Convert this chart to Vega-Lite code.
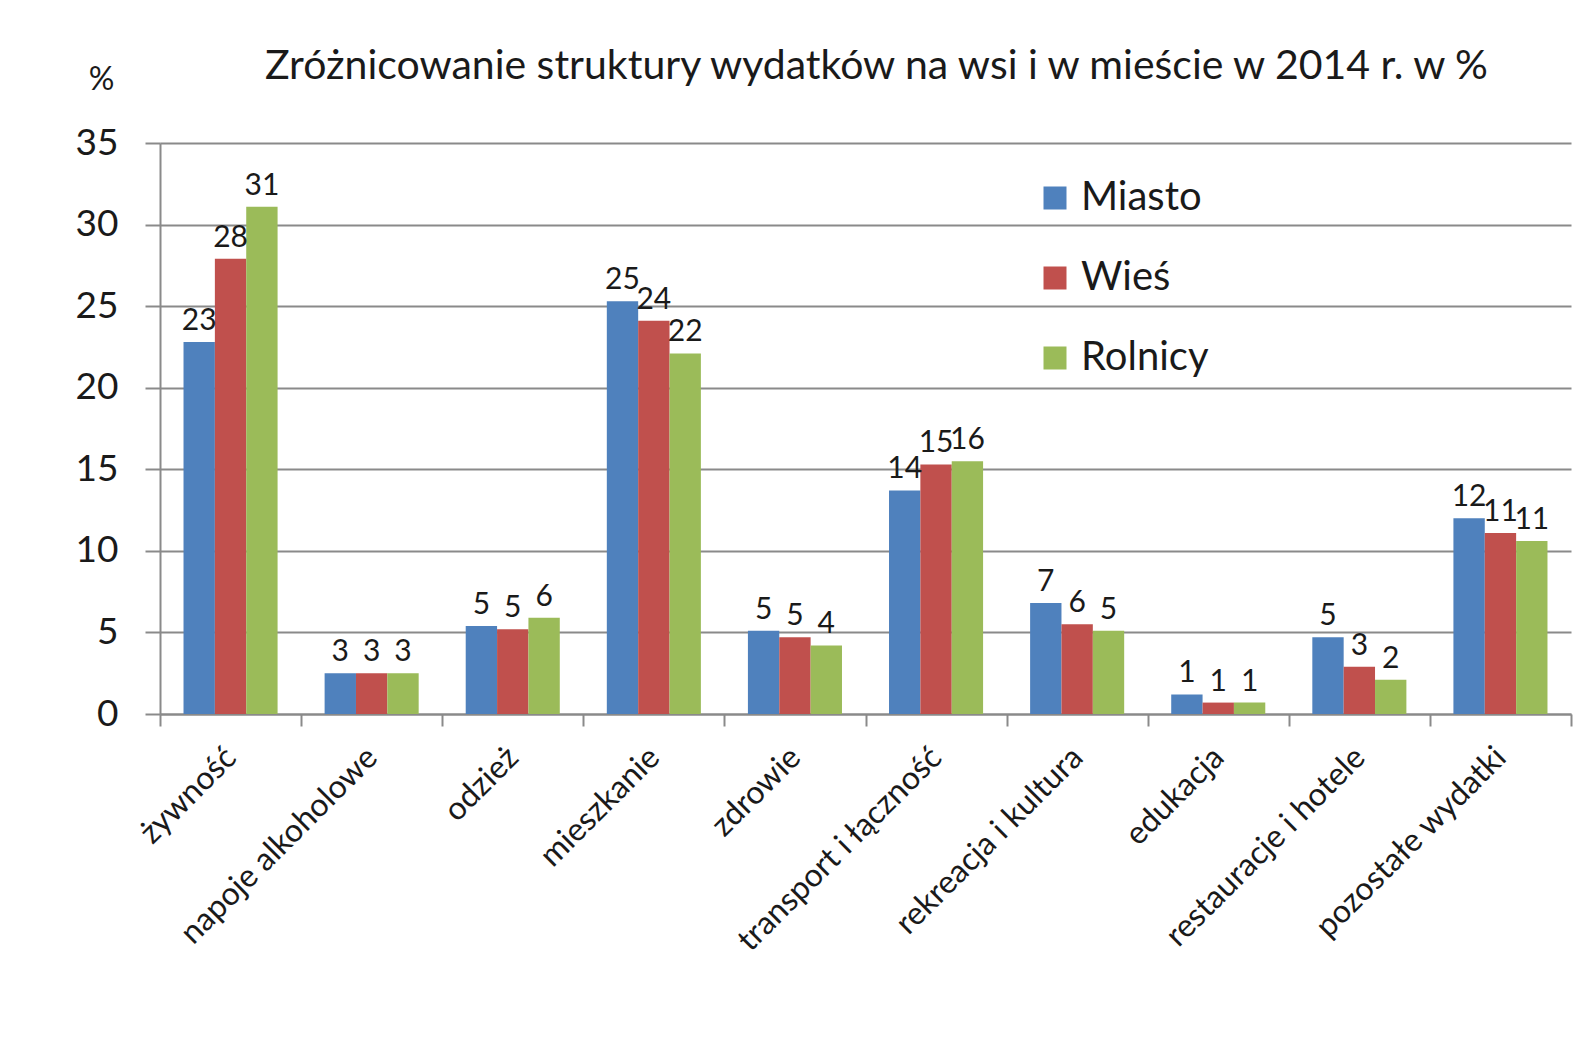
{
  "$schema": "https://vega.github.io/schema/vega-lite/v6.json",
  "width": 1411,
  "height": 571,
  "autosize": {"type": "none"},
  "padding": {"left": 160, "top": 143, "right": 15, "bottom": 337},
  "background": "white",
  "title": {
    "text": "Zróżnicowanie struktury wydatków na wsi i w mieście w 2014 r. w %",
    "anchor": "start",
    "frame": "group",
    "dx": 105,
    "offset": -57,
    "baseline": "alphabetic",
    "fontSize": 41,
    "font": "Lato",
    "fontWeight": "normal",
    "color": "#1a1a1a"
  },
  "data": {
    "values": [
      {"kategoria": "żywność", "grupa": "Miasto", "wartosc": 22.8},
      {"kategoria": "żywność", "grupa": "Wieś", "wartosc": 27.9},
      {"kategoria": "żywność", "grupa": "Rolnicy", "wartosc": 31.1},
      {"kategoria": "napoje alkoholowe", "grupa": "Miasto", "wartosc": 2.5},
      {"kategoria": "napoje alkoholowe", "grupa": "Wieś", "wartosc": 2.5},
      {"kategoria": "napoje alkoholowe", "grupa": "Rolnicy", "wartosc": 2.5},
      {"kategoria": "odzież", "grupa": "Miasto", "wartosc": 5.4},
      {"kategoria": "odzież", "grupa": "Wieś", "wartosc": 5.2},
      {"kategoria": "odzież", "grupa": "Rolnicy", "wartosc": 5.9},
      {"kategoria": "mieszkanie", "grupa": "Miasto", "wartosc": 25.3},
      {"kategoria": "mieszkanie", "grupa": "Wieś", "wartosc": 24.1},
      {"kategoria": "mieszkanie", "grupa": "Rolnicy", "wartosc": 22.1},
      {"kategoria": "zdrowie", "grupa": "Miasto", "wartosc": 5.1},
      {"kategoria": "zdrowie", "grupa": "Wieś", "wartosc": 4.7},
      {"kategoria": "zdrowie", "grupa": "Rolnicy", "wartosc": 4.2},
      {"kategoria": "transport i łączność", "grupa": "Miasto", "wartosc": 13.7},
      {"kategoria": "transport i łączność", "grupa": "Wieś", "wartosc": 15.3},
      {"kategoria": "transport i łączność", "grupa": "Rolnicy", "wartosc": 15.5},
      {"kategoria": "rekreacja i kultura", "grupa": "Miasto", "wartosc": 6.8},
      {"kategoria": "rekreacja i kultura", "grupa": "Wieś", "wartosc": 5.5},
      {"kategoria": "rekreacja i kultura", "grupa": "Rolnicy", "wartosc": 5.1},
      {"kategoria": "edukacja", "grupa": "Miasto", "wartosc": 1.2},
      {"kategoria": "edukacja", "grupa": "Wieś", "wartosc": 0.7},
      {"kategoria": "edukacja", "grupa": "Rolnicy", "wartosc": 0.7},
      {"kategoria": "restauracje i hotele", "grupa": "Miasto", "wartosc": 4.7},
      {"kategoria": "restauracje i hotele", "grupa": "Wieś", "wartosc": 2.9},
      {"kategoria": "restauracje i hotele", "grupa": "Rolnicy", "wartosc": 2.1},
      {"kategoria": "pozostałe wydatki", "grupa": "Miasto", "wartosc": 12.0},
      {"kategoria": "pozostałe wydatki", "grupa": "Wieś", "wartosc": 11.1},
      {"kategoria": "pozostałe wydatki", "grupa": "Rolnicy", "wartosc": 10.6}
    ]
  },
  "encoding": {
    "x": {
      "field": "kategoria",
      "type": "nominal",
      "sort": null,
      "scale": {"paddingInner": 0, "paddingOuter": 0},
      "axis": {
        "title": null,
        "tickBand": "extent",
        "labelAngle": -45,
        "labelAlign": "right",
        "labelBaseline": "middle",
        "labelFontSize": 32,
        "labelFont": "Lato",
        "labelColor": "#1a1a1a",
        "labelPadding": 26,
        "labelLimit": 500,
        "tickSize": 12,
        "tickWidth": 2,
        "tickColor": "#8a8a8a",
        "domainColor": "#8a8a8a",
        "domainWidth": 2,
        "grid": false
      }
    },
    "xOffset": {
      "field": "grupa",
      "type": "nominal",
      "sort": ["Miasto", "Wieś", "Rolnicy"],
      "scale": {"paddingInner": 0, "paddingOuter": 0.75}
    },
    "y": {
      "field": "wartosc",
      "type": "quantitative",
      "scale": {"domain": [0, 35]},
      "axis": {
        "values": [0, 5, 10, 15, 20, 25, 30, 35],
        "grid": true,
        "gridColor": "#8a8a8a",
        "gridWidth": 2,
        "domainColor": "#8a8a8a",
        "domainWidth": 2,
        "tickColor": "#8a8a8a",
        "tickWidth": 2,
        "tickSize": 15,
        "labelFontSize": 37,
        "labelFont": "Lato",
        "labelColor": "#1a1a1a",
        "labelPadding": 27,
        "title": "%",
        "titleAngle": 0,
        "titleX": -59,
        "titleY": -54,
        "titleAlign": "center",
        "titleBaseline": "alphabetic",
        "titleFontSize": 32,
        "titleFont": "Lato",
        "titleFontWeight": "normal",
        "titleColor": "#1a1a1a"
      }
    }
  },
  "layer": [
    {
      "mark": {"type": "bar"},
      "encoding": {
        "color": {
          "field": "grupa",
          "type": "nominal",
          "sort": ["Miasto", "Wieś", "Rolnicy"],
          "scale": {"domain": ["Miasto", "Wieś", "Rolnicy"], "range": ["#4F81BD", "#C0504D", "#9BBB59"]},
          "legend": {
            "title": null,
            "orient": "none",
            "legendX": 875,
            "legendY": 35,
            "padding": 0,
            "symbolType": "square",
            "symbolSize": 529,
            "symbolStrokeWidth": 0,
            "labelFontSize": 40,
            "labelFont": "Lato",
            "labelColor": "#1a1a1a",
            "labelOffset": 6,
            "rowPadding": 40
          }
        }
      }
    },
    {
      "mark": {"type": "text", "baseline": "bottom", "dy": -6, "fontSize": 30, "font": "Lato", "color": "#1a1a1a"},
      "encoding": {
        "text": {"field": "wartosc", "type": "quantitative", "format": ".0f"}
      }
    }
  ],
  "config": {
    "view": {"stroke": null}
  }
}
